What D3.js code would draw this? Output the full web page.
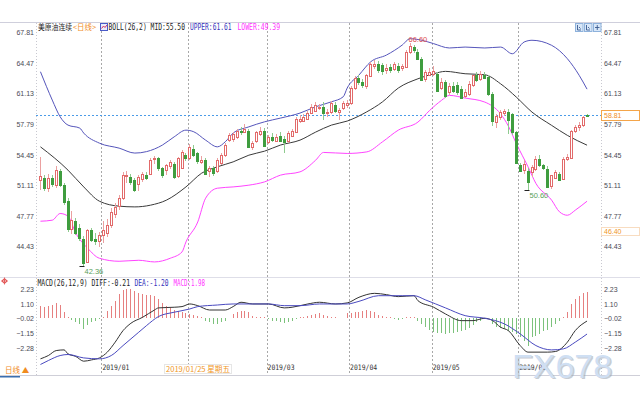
<!DOCTYPE html>
<html>
<head>
<meta charset="utf-8">
<script src="https://cdn.jsdelivr.net/npm/d3@7"></script>
<style>
body { margin: 0; background: #fff; }
svg { display: block; font-family: 'Liberation Sans', Arial, sans-serif; }
</style>
</head>
<body>
<svg id="chart" width="640" height="400"></svg>
<script>
// daily candles [open, high, low, close], Dec 2018 - Jun 2019
var candles = [
  [51.7, 54.2, 50.6, 52.1], [51.9, 52.3, 50.5, 50.8], [50.8, 52.4, 50.4, 51.9], [51.9, 52.3, 50.9, 51.2],
  [51.2, 53.2, 50.8, 52.8], [52.7, 52.9, 50.9, 51.2], [51.2, 51.4, 49.0, 49.4], [49.4, 49.7, 46.0, 46.3],
  [46.3, 48.3, 45.8, 47.3], [47.2, 47.6, 45.7, 45.9], [46.5, 46.9, 45.1, 45.4], [45.3, 45.6, 42.36, 42.7],
  [42.7, 46.4, 42.6, 46.2], [46.2, 46.5, 44.9, 45.1], [45.3, 45.9, 44.6, 45.1], [45.1, 46.0, 44.4, 45.7],
  [45.7, 47.2, 44.8, 46.2], [45.9, 47.5, 45.5, 46.8], [46.8, 48.6, 46.5, 48.2], [48.0, 49.2, 47.6, 48.8],
  [48.8, 50.1, 48.4, 49.7], [49.7, 52.6, 49.5, 52.2], [52.05, 52.7, 51.4, 52.2], [52.05, 52.4, 51.2, 51.5],
  [51.7, 51.9, 50.4, 50.6], [51.3, 52.3, 50.5, 52.05], [51.9, 52.6, 51.5, 52.4], [52.3, 52.6, 51.7, 52.0],
  [52.4, 54.1, 52.2, 53.9], [53.9, 54.3, 53.5, 54.05], [54.05, 54.2, 52.7, 52.96], [52.96, 53.1, 51.9, 52.23],
  [52.8, 53.5, 52.3, 53.3], [53.3, 53.9, 52.9, 53.7], [53.5, 53.7, 51.8, 52.05], [52.05, 54.2, 51.9, 54.05],
  [53.1, 55.0, 53.0, 54.8], [54.4, 54.7, 53.8, 54.05], [54.05, 55.6, 53.9, 55.3], [55.1, 55.5, 54.2, 54.4],
  [54.6, 54.8, 53.5, 53.7], [53.7, 54.3, 53.4, 53.9], [53.9, 54.1, 52.2, 52.4], [52.6, 53.2, 52.0, 52.96],
  [52.96, 53.2, 52.1, 52.4], [52.7, 54.1, 52.5, 53.9], [53.5, 54.6, 53.3, 54.4], [54.4, 55.7, 54.2, 55.5],
  [56.1, 56.8, 55.8, 56.6], [56.2, 56.9, 55.9, 56.7], [56.4, 57.3, 56.2, 57.1], [57.0, 57.5, 56.6, 56.9],
  [56.96, 57.8, 56.8, 57.3], [57.0, 57.3, 55.2, 55.3], [55.3, 56.0, 55.0, 55.7], [55.9, 57.1, 55.7, 56.9],
  [56.8, 57.5, 56.5, 57.1], [57.1, 57.4, 55.4, 55.5], [55.9, 56.6, 55.6, 56.4], [56.4, 56.8, 55.9, 56.1],
  [56.0, 56.7, 55.8, 56.4], [56.5, 56.9, 55.8, 56.0], [56.2, 56.5, 54.6, 55.9], [55.9, 57.0, 55.7, 56.8],
  [56.6, 57.3, 56.4, 57.1], [57.0, 58.6, 56.8, 58.4], [58.2, 58.8, 57.9, 58.4], [58.2, 58.9, 58.0, 58.6],
  [58.4, 59.2, 58.2, 59.0], [59.1, 60.0, 58.9, 59.7], [59.3, 60.2, 59.1, 59.9], [59.6, 60.0, 59.3, 59.7],
  [59.7, 60.2, 58.2, 59.0], [58.97, 59.5, 58.6, 59.1], [59.1, 60.3, 58.9, 60.05], [59.9, 60.2, 59.0, 59.3],
  [59.1, 59.6, 58.2, 59.3], [59.5, 60.3, 59.3, 60.05], [59.9, 60.4, 59.6, 60.1], [60.1, 61.9, 59.9, 61.7],
  [61.7, 63.0, 61.5, 62.8], [62.8, 63.1, 62.1, 62.4], [62.4, 62.7, 61.7, 62.05], [61.9, 63.3, 61.6, 63.1],
  [63.1, 64.6, 62.9, 64.4], [64.2, 64.8, 63.8, 64.4], [64.4, 64.7, 63.4, 63.7], [64.2, 64.5, 63.2, 63.5],
  [63.7, 64.3, 63.3, 63.9], [64.05, 64.4, 63.4, 63.7], [63.9, 64.6, 63.6, 64.4], [64.1, 64.5, 63.4, 63.7],
  [63.9, 64.4, 63.6, 64.1], [64.1, 65.9, 63.9, 65.7], [65.7, 66.6, 65.4, 66.3], [66.2, 66.4, 65.6, 65.9],
  [65.7, 66.0, 64.8, 64.9], [64.9, 65.1, 62.5, 62.6], [62.75, 63.7, 62.4, 63.5], [63.2, 63.9, 63.0, 63.5],
  [63.3, 64.1, 63.0, 63.6], [63.3, 63.5, 61.3, 61.5], [61.7, 62.8, 61.5, 62.4], [62.4, 62.6, 60.6, 60.9],
  [61.3, 62.3, 61.0, 62.0], [62.0, 62.4, 61.2, 61.5], [62.1, 62.4, 61.0, 61.3], [61.65, 61.9, 60.5, 60.7],
  [60.9, 61.6, 60.6, 61.3], [61.1, 62.5, 60.9, 62.2], [62.0, 63.2, 61.8, 63.1], [63.1, 63.5, 62.4, 62.6],
  [62.75, 63.6, 62.5, 63.3], [63.2, 63.5, 62.7, 62.9], [62.9, 63.1, 60.9, 61.1], [61.1, 61.3, 57.6, 58.2],
  [58.0, 58.9, 57.4, 58.7], [58.6, 59.3, 58.2, 59.1], [59.0, 59.5, 58.7, 59.2], [59.1, 59.4, 56.7, 58.2],
  [58.9, 59.0, 56.6, 56.9], [56.9, 57.1, 53.4, 53.5], [53.3, 53.6, 52.6, 52.7], [52.9, 53.9, 52.4, 53.5],
  [52.7, 53.0, 50.60, 51.5], [52.6, 53.3, 52.0, 53.1], [52.9, 54.3, 52.7, 54.0], [54.0, 54.4, 53.1, 53.3],
  [53.3, 53.5, 52.8, 53.0], [52.9, 53.2, 50.8, 50.9], [51.0, 52.3, 50.7, 52.2], [52.0, 52.8, 51.8, 52.6],
  [52.4, 52.6, 51.6, 51.8], [51.8, 54.2, 51.7, 54.0], [54.0, 54.5, 53.8, 54.2], [54.2, 57.2, 54.0, 57.1],
  [57.1, 57.7, 56.8, 57.5], [57.5, 58.0, 57.1, 57.7], [57.65, 58.7, 57.5, 58.56], [58.83, 58.95, 58.75, 58.81]
];

// BOLL(26,2), [candle index, value]
var bollUpper = [[0, 63.51], [3, 60.42], [5, 58.6], [7, 57.69], [10, 57.36], [11, 56.82], [15, 55.72],
  [20, 55.18], [24, 54.64], [27, 54.8], [31, 55.51], [34, 56.41], [37, 57.14], [39, 56.96], [42, 56.05],
  [45, 55.32], [47, 55.87], [49, 56.82], [53, 57.5], [57, 58.05], [61, 58.45], [66, 59.0], [70, 59.69],
  [74, 60.23], [77, 60.78], [78, 61.73], [81, 63.15], [84, 64.6], [88, 65.33], [92, 66.42], [94, 67.11],
  [97, 66.94], [100, 66.57], [104, 66.1], [108, 66.2], [113, 66.1], [117, 66.2], [120, 65.47], [123, 66.75],
  [125, 66.94], [130, 66.39], [134, 64.93], [137, 63.12], [139, 61.61]];
var bollMid = [[0, 55.32], [7, 52.78], [11, 50.95], [15, 49.39], [20, 48.85], [24, 48.77], [28, 48.96],
  [32, 49.5], [37, 50.95], [41, 52.45], [45, 53.14], [49, 53.68], [53, 54.41], [57, 54.85], [61, 55.51],
  [66, 56.05], [70, 56.93], [74, 57.69], [78, 58.13], [83, 59.14], [87, 60.23], [91, 61.73], [96, 62.74],
  [100, 63.29], [103, 63.55], [108, 63.29], [113, 63.18], [117, 62.2], [121, 60.75], [125, 59.11],
  [130, 57.66], [134, 56.57], [139, 55.50]];
var bollLower = [[0, 47.21], [3, 47.32], [5, 48.05], [7, 47.76], [9, 45.9], [12, 44.26], [15, 43.17],
  [20, 42.84], [25, 42.95], [29, 42.77], [33, 43.17], [36, 43.86], [37, 44.95], [40, 47.13], [42, 49.72],
  [45, 50.81], [49, 50.95], [53, 51.14], [57, 51.5], [61, 52.23], [66, 52.59], [70, 53.87], [72, 54.71],
  [78, 54.6], [83, 54.77], [87, 55.87], [91, 57.14], [96, 58.02], [99, 59.3], [102, 60.39], [104, 60.93],
  [108, 60.64], [113, 60.2], [117, 58.92], [119, 57.58], [121, 55.69], [124, 53.14], [126, 51.33],
  [130, 49.5], [132, 48.23], [134, 47.86], [136, 48.41], [139, 49.39]];

// MACD(26,12,9)
var macdHist = [0.96, 0.84, 0.96, 1.01, 1.14, 1.01, 0.46, 0.08, -0.13, -0.30, -0.43, -0.81, -0.48, -0.30,
  -0.18, -0.05, 0.13, 0.58, 0.96, 1.29, 1.85, 2.15, 2.23, 2.20, 2.05, 1.90, 1.85, 1.80, 1.80, 1.72, 1.47,
  1.14, 0.96, 0.79, 0.66, 0.58, 0.46, 0.38, 0.33, 0.28, 0.20, 0.08, -0.18, -0.30, -0.43, -0.43, -0.30,
  -0.18, 0.03, 0.33, 0.46, 0.53, 0.58, 0.46, 0.20, 0.13, 0.08, 0.08, -0.08, -0.18, -0.23, -0.30, -0.38,
  -0.30, -0.23, -0.05, 0.08, 0.13, 0.20, 0.28, 0.33, 0.38, 0.28, 0.20, 0.13, 0.08, 0.03, 0.03, 0.38, 0.43,
  0.48, 0.48, 0.58, 0.61, 0.58, 0.46, 0.28, 0.20, 0.13, 0.08, -0.05, -0.13, -0.08, 0.08, 0.13, 0.08, -0.18,
  -0.43, -0.68, -0.89, -1.01, -1.12, -1.14, -1.19, -1.14, -1.09, -1.06, -0.99, -0.89, -0.74, -0.48, -0.30,
  -0.18, -0.08, 0.00, -0.43, -0.68, -0.74, -0.81, -0.94, -1.06, -1.19, -1.44, -1.70, -2.08, -1.44, -1.32,
  -1.19, -0.94, -0.89, -0.68, -0.43, -0.18, 0.08, 0.46, 1.09, 1.47, 1.72, 1.95, 1.98];
var macdDiff = [[0, -3.09], [2, -2.84], [4, -2.46], [6, -2.41], [7, -2.71], [9, -2.91], [11, -3.27],
  [13, -3.17], [15, -3.02], [17, -2.58], [19, -1.82], [21, -0.94], [23, -0.38], [26, 0.08], [29, 0.63],
  [30, 0.79], [34, 0.84], [36, 0.89], [38, 1.09], [40, 0.96], [43, 0.63], [47, 0.63], [49, 0.89],
  [51, 1.22], [54, 1.09], [58, 1.09], [62, 0.79], [64, 0.84], [68, 1.09], [71, 1.22], [75, 1.09],
  [78, 1.17], [81, 1.6], [85, 1.9], [88, 1.8], [91, 1.65], [95, 1.72], [96, 1.34], [100, 0.84],
  [103, 0.33], [107, -0.18], [110, -0.18], [113, 0.0], [115, -0.18], [117, -0.68], [119, -0.94],
  [122, -2.08], [124, -2.58], [129, -2.58], [131, -2.53], [134, -1.82], [136, -0.94], [139, -0.21]];
var macdDea = [[0, -3.52], [2, -3.22], [5, -2.84], [7, -2.76], [11, -3.02], [15, -3.09], [18, -2.84],
  [21, -2.08], [25, -1.06], [27, -0.55], [30, 0.13], [34, 0.46], [38, 0.71], [40, 0.89], [45, 1.01],
  [49, 1.09], [54, 1.09], [58, 1.09], [62, 0.96], [66, 0.96], [71, 1.09], [78, 1.09], [81, 1.29],
  [86, 1.72], [92, 1.72], [95, 1.72], [98, 1.39], [103, 0.79], [108, 0.2], [113, 0.0], [118, -0.43],
  [122, -1.19], [126, -2.08], [130, -2.41], [133, -2.33], [136, -1.82], [139, -1.20]];

var priceTicks = [67.81, 64.47, 61.13, 57.79, 54.45, 51.11, 47.77, 44.43];
var macdTicks = [2.23, 1.10, -0.02, -1.15, -2.28];
var monthTicks = [[16, '2019/01'], [38, ''], [58, '2019/03'], [79, '2019/04'], [100, '2019/05'], [122, '2019/06']];
var lastPrice = 58.81;
var markPrice = 46.40;

var upColor = '#e26a6a', downColor = '#3f9d3f';
var mono = "'DejaVu Sans Mono', monospace";
var cjk = "'Noto Sans CJK SC', sans-serif";

var svg = d3.select('#chart');

var x = d3.scaleBand()
  .domain(d3.range(candles.length))
  .range([38.5, 589])
  .paddingInner(0.25)
  .paddingOuter(0.125);

var y = d3.scaleLinear().domain([44.43, 67.81]).range([246.7, 32.3]);
var ym = d3.scaleLinear().domain([-2.28, 2.23]).range([348.2, 289]);

function cx(i) { return Math.round(x(i)) + 1.5; }
function gridX(i) { return Math.round(x(i) - x.step() * x.paddingInner() / 2) + 0.5; }

var defs = svg.append('defs');
defs.append('clipPath').attr('id', 'clipMain')
  .append('rect').attr('x', 36).attr('y', 23).attr('width', 565).attr('height', 254);
defs.append('clipPath').attr('id', 'clipMacd')
  .append('rect').attr('x', 36).attr('y', 278).attr('width', 565).attr('height', 88);

// frame lines
svg.append('line').attr('x1', 0).attr('x2', 640).attr('y1', 22.5).attr('y2', 22.5).style('stroke', '#cfcfdc');
svg.append('line').attr('x1', 0).attr('x2', 640).attr('y1', 277.5).attr('y2', 277.5).style('stroke', '#dedee8');
svg.append('line').attr('x1', 0).attr('x2', 640).attr('y1', 375.5).attr('y2', 375.5).style('stroke', '#cfcfd8');
[36.5, 601.5].forEach(function(px) {
  svg.append('line').attr('x1', px).attr('x2', px).attr('y1', 23).attr('y2', 375)
    .style('stroke', '#c8c8d0').style('stroke-dasharray', '1,2');
});

// month grid
svg.selectAll('.month-grid')
  .data(monthTicks)
  .enter()
  .append('line')
  .attr('class', 'month-grid')
  .attr('x1', function(d) { return gridX(d[0]); })
  .attr('x2', function(d) { return gridX(d[0]); })
  .attr('y1', 23)
  .attr('y2', 375)
  .style('stroke', '#a8a8a8')
  .style('stroke-dasharray', '2,2');

// price axes
var yAxisL = d3.axisLeft(y).tickValues(priceTicks).tickFormat(d3.format('.2f')).tickSize(0).tickPadding(1);
var yAxisR = d3.axisRight(y).tickValues(priceTicks).tickFormat(d3.format('.2f')).tickSize(0).tickPadding(1);
var mAxisL = d3.axisLeft(ym).tickValues(macdTicks).tickFormat(d3.format('.2f')).tickSize(0).tickPadding(1);
var mAxisR = d3.axisRight(ym).tickValues(macdTicks).tickFormat(d3.format('.2f')).tickSize(0).tickPadding(1);

[[yAxisL, 35], [yAxisR, 603], [mAxisL, 35], [mAxisR, 603]].forEach(function(a) {
  var g = svg.append('g').attr('class', 'axis').attr('transform', 'translate(' + a[1] + ',0)').call(a[0]);
  g.select('.domain').remove();
  g.selectAll('text').style('font-family', "'Liberation Sans', Arial, sans-serif")
    .style('font-size', '7px').style('fill', '#4a4a55');
});

var main = svg.append('g').attr('clip-path', 'url(#clipMain)');

// crosshair line at latest price
main.append('line')
  .attr('x1', 36).attr('x2', 601)
  .attr('y1', Math.round(y(lastPrice)) + 0.5).attr('y2', Math.round(y(lastPrice)) + 0.5)
  .style('stroke', '#4a9be8').style('stroke-dasharray', '2,2');

// BOLL
var bollLine = d3.line()
  .x(function(d) { return x(d[0]) + x.bandwidth() / 2; })
  .y(function(d) { return y(d[1]); })
  .curve(d3.curveMonotoneX);

[[bollUpper, '#5555bb'], [bollMid, '#3a3a3a'], [bollLower, '#ff44ff']].forEach(function(b) {
  main.append('path').datum(b[0]).attr('d', bollLine)
    .style('fill', 'none').style('stroke', b[1]).style('stroke-width', 1);
});

// candles
var candle = main.selectAll('.candle')
  .data(candles)
  .enter()
  .append('g')
  .attr('class', 'candle')
  .style('shape-rendering', 'crispEdges');

candle.append('line')
  .attr('x1', function(d, i) { return cx(i); })
  .attr('x2', function(d, i) { return cx(i); })
  .attr('y1', function(d) { return y(d[1]); })
  .attr('y2', function(d) { return y(d[2]); })
  .style('stroke', function(d) { return d[3] >= d[0] ? '#eba0a0' : '#8fcb8f'; });

candle.append('rect')
  .attr('x', function(d, i) { return cx(i) - 1; })
  .attr('width', 2)
  .attr('y', function(d) { return Math.round(y(Math.max(d[0], d[3]))) + 0.5; })
  .attr('height', function(d) { return Math.max(Math.round(Math.abs(y(d[0]) - y(d[3]))), 0.5); })
  .style('fill', function(d) { return d[3] >= d[0] ? '#fff' : downColor; })
  .style('stroke', function(d) { return d[3] >= d[0] ? upColor : downColor; })
  .style('stroke-width', 1);

// extreme labels
var lowIdx = 11, junIdx = 124, highIdx = 94;
[[lowIdx, candles[lowIdx][2]], [junIdx, candles[junIdx][2]]].forEach(function(m) {
  main.append('line')
    .attr('x1', cx(m[0]) - 4).attr('x2', cx(m[0]) + 1)
    .attr('y1', Math.round(y(m[1])) + 0.5).attr('y2', Math.round(y(m[1])) + 0.5)
    .style('stroke', '#222');
  main.append('text')
    .attr('x', cx(m[0]) + 1).attr('y', y(m[1]) + 8)
    .style('font-size', '7.5px').style('fill', '#5aa05a')
    .text(d3.format('.2f')(m[1]));
});
svg.append('text')
  .attr('x', cx(highIdx) - 2).attr('y', y(candles[highIdx][1]) - 1.5)
  .style('font-size', '7.5px').style('fill', '#e05050')
  .text(d3.format('.2f')(candles[highIdx][1]));

// MACD panel
var macdG = svg.append('g').attr('clip-path', 'url(#clipMacd)');

macdG.selectAll('.hist')
  .data(macdHist)
  .enter()
  .append('rect')
  .attr('class', 'hist')
  .attr('x', function(d, i) { return cx(i) - 0.5; })
  .attr('width', 1)
  .attr('y', function(d) { return Math.min(ym(0), ym(d)); })
  .attr('height', function(d) { return Math.abs(ym(d) - ym(0)); })
  .style('fill', function(d) { return d >= 0 ? '#e68080' : '#7cc27c'; })
  .style('shape-rendering', 'crispEdges');

var macdLine = d3.line()
  .x(function(d) { return x(d[0]) + x.bandwidth() / 2; })
  .y(function(d) { return ym(d[1]); })
  .curve(d3.curveMonotoneX);

macdG.append('path').datum(macdDiff).attr('d', macdLine)
  .style('fill', 'none').style('stroke', '#333').style('stroke-width', 1);
macdG.append('path').datum(macdDea).attr('d', macdLine)
  .style('fill', 'none').style('stroke', '#4a4ac0').style('stroke-width', 1);

// date axis
var xAxis = d3.axisBottom(x)
  .tickValues(monthTicks.map(function(d) { return d[0]; }))
  .tickFormat(function(i) { return monthTicks.find(function(d) { return d[0] === i; })[1]; })
  .tickSize(0)
  .tickPadding(0);

var xg = svg.append('g').attr('transform', 'translate(0,365)').call(xAxis);
xg.select('.domain').remove();
xg.selectAll('text')
  .attr('text-anchor', 'start')
  .attr('x', -1)
  .attr('dy', '0.72em')
  .attr('textLength', function(d) { return monthTicks.find(function(m) { return m[0] === d; })[1] ? 27 : null; })
  .attr('lengthAdjust', 'spacingAndGlyphs')
  .style('font-family', mono)
  .style('font-size', '7.5px')
  .style('fill', '#333');

// crosshair date tag
svg.append('rect').attr('x', 164.5).attr('y', 364.5).attr('width', 67).attr('height', 9)
  .style('fill', '#fff').style('stroke', '#e6e6e6');
svg.append('text').attr('x', 166).attr('y', 372)
  .attr('textLength', 64).attr('lengthAdjust', 'spacingAndGlyphs')
  .style('font-family', cjk).style('font-size', '7.5px').style('fill', '#f0961e')
  .text('2019/01/25 星期五');

svg.append('text').attr('x', 5).attr('y', 372.5)
  .style('font-family', cjk).style('font-size', '7.5px').style('fill', '#f08c1e')
  .text('日线 ▲');
svg.append('rect').attr('x', 0).attr('y', 376).attr('width', 20).attr('height', 1.5).style('fill', '#3a6fb0');

// price tags on right axis
svg.append('rect').attr('x', 601.5).attr('y', Math.round(y(lastPrice)) - 4.5).attr('width', 38).attr('height', 10)
  .style('fill', '#fff').style('stroke', '#f4a54a');
svg.append('text').attr('x', 604).attr('y', y(lastPrice) + 3)
  .style('font-size', '7px').style('fill', '#f08c1e')
  .text(d3.format('.2f')(lastPrice));
svg.append('rect').attr('x', 601.5).attr('y', Math.round(y(markPrice)) - 1.5).attr('width', 38).attr('height', 8)
  .style('fill', 'none').style('stroke', '#f8dcc0');
svg.append('text').attr('x', 604).attr('y', y(markPrice) + 5)
  .style('font-size', '7px').style('fill', '#f0961e')
  .text(d3.format('.2f')(markPrice));

// header legends
function legend(items, baseY) {
  items.forEach(function(t) {
    svg.append('text')
      .attr('x', t[0]).attr('y', baseY)
      .attr('textLength', t[3]).attr('lengthAdjust', 'spacingAndGlyphs')
      .style('font-family', t[4] || mono)
      .style('font-size', '8px')
      .style('fill', t[2])
      .text(t[1]);
  });
}
legend([
  [38, '美原油连续', '#222', 34, cjk],
  [73, '<日线>', '#f08c1e', 23, cjk],
  [108.5, 'BOLL(26,2) MID:55.50', '#222', 76.5],
  [190, 'UPPER:61.61', '#3333bb', 41.5],
  [237.5, 'LOWER:49.39', '#ff33ff', 42.5]
], 30);
legend([
  [37.5, 'MACD(26,12,9) DIFF:-0.21', '#222', 92.5],
  [134.5, 'DEA:-1.20', '#3333bb', 34],
  [173.5, 'MACD:1.98', '#ff33ff', 31.5]
], 285.5);

// BOLL icon
svg.append('rect').attr('x', 100.5).attr('y', 23.5).attr('width', 7).attr('height', 7)
  .style('fill', '#e8ecfa').style('stroke', '#4a5ac8');
svg.append('path').attr('d', 'M101.5,28.5 L103.5,26 L105,27.5 L107,25')
  .style('fill', 'none').style('stroke', '#d03060');

// MACD icon
svg.append('circle').attr('cx', 4.5).attr('cy', 281).attr('r', 2).style('fill', 'none').style('stroke', '#e04848');
svg.append('path').attr('d', 'M1,281 H8 M4.5,277.5 V284.5').style('stroke', '#e04848').style('stroke-width', 0.8);

// toolbar icons
[575.5, 584.5, 593.5].forEach(function(px, k) {
  svg.append('rect').attr('x', px).attr('y', 23.5).attr('width', 7.5).attr('height', 8)
    .style('fill', '#d8e7f8').style('stroke', '#8eb2dc');
  svg.append('path')
    .attr('d', k < 2 ? 'M' + (px + 2) + ',25 V30 H' + (px + 5.5) + ' M' + (px + 3.5) + ',27 L' + (px + 5) + ',28.5'
                     : 'M' + (px + 1.5) + ',27.5 H' + (px + 6) + ' M' + (px + 3.75) + ',25 V30')
    .style('fill', 'none').style('stroke', '#3a5a90').style('stroke-width', 0.9);
});

// watermark
svg.append('text').attr('x', 513.5).attr('y', 379)
  .style('font-size', '34px').style('fill', '#9aa4b0').style('opacity', 0.55)
  .text('FX678');
svg.append('text').attr('x', 512).attr('y', 377.5)
  .style('font-size', '34px').style('fill', '#cfdff3')
  .text('FX678');
</script>
</body>
</html>
